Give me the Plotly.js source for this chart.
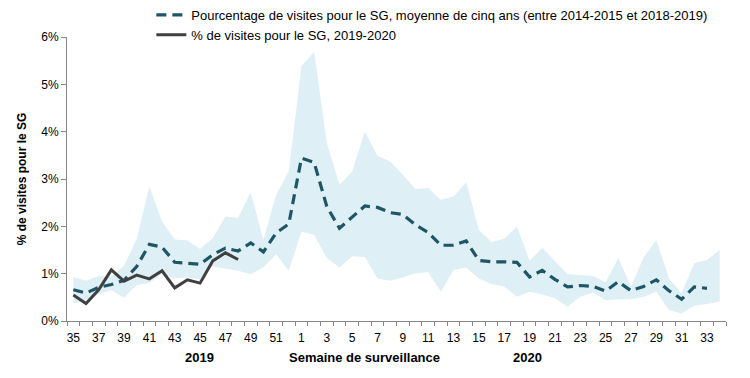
<!DOCTYPE html>
<html>
<head>
<meta charset="utf-8">
<script src="https://cdn.plot.ly/plotly-3.0.1.min.js"></script>
<style>html,body{margin:0;padding:0;background:#fff;}#chart{width:750px;height:378px;}</style>
</head>
<body>
<div id="chart"></div>
<script>
var weeks = ['35','36','37','38','39','40','41','42','43','44','45','46','47','48','49','50','51','52',
  '1','2','3','4','5','6','7','8','9','10','11','12','13','14','15','16','17','18','19','20',
  '21','22','23','24','25','26','27','28','29','30','31','32','33','34'];

var meanFiveYears = [0.66,0.59,0.71,0.77,0.86,1.15,1.62,1.56,1.24,1.22,1.20,1.40,1.54,1.48,1.65,1.46,1.86,2.05,
  3.44,3.35,2.42,1.96,2.20,2.43,2.40,2.29,2.25,2.03,1.87,1.60,1.60,1.69,1.28,1.25,1.25,1.24,0.93,1.07,
  0.88,0.72,0.75,0.73,0.63,0.83,0.64,0.73,0.87,0.64,0.46,0.72,0.69,null];

var upperBand = [0.93,0.85,0.95,0.94,1.16,1.73,2.84,2.10,1.72,1.70,1.52,1.75,2.21,2.18,2.72,1.71,2.66,3.16,
  5.38,5.69,3.76,2.88,3.16,4.00,3.49,3.37,3.09,2.79,2.81,2.56,2.63,2.93,1.92,1.67,1.74,1.99,1.28,1.54,
  1.27,0.99,0.97,0.95,0.82,1.33,0.73,1.34,1.71,0.90,0.59,1.22,1.29,1.50];

var lowerBand = [0.37,0.44,0.57,0.65,0.49,0.76,0.80,1.00,0.90,0.92,0.88,1.15,1.11,1.06,0.99,1.13,1.41,1.06,
  1.89,1.82,1.33,1.13,1.37,1.35,0.90,0.85,0.92,1.01,1.03,0.62,1.08,1.13,0.90,0.78,0.73,0.51,0.62,0.56,
  0.48,0.30,0.51,0.60,0.44,0.46,0.46,0.51,0.62,0.23,0.16,0.32,0.36,0.41];

var current = [0.55,0.37,0.66,1.08,0.84,0.97,0.89,1.06,0.70,0.87,0.80,1.27,1.44,1.30];

var yTickVals = [0,1,2,3,4,5,6];
var yTickText = ['0%','1%','2%','3%','4%','5%','6%'];
var xTickText = weeks.map(function(w,i){ return i % 2 === 0 ? w : ''; });

var narrow = 'Liberation Sans Narrow, Arial Narrow, Liberation Sans, Arial, sans-serif';
var regular = 'Liberation Sans, Arial, sans-serif';

var traces = [
  {x: weeks, y: lowerBand, type: 'scatter', mode: 'lines', line: {width: 0, color: '#deeff6'},
   showlegend: false, hoverinfo: 'skip'},
  {x: weeks, y: upperBand, type: 'scatter', mode: 'lines', line: {width: 0, color: '#deeff6'},
   fill: 'tonexty', fillcolor: '#deeff6', showlegend: false, hoverinfo: 'skip'},
  {x: weeks, y: meanFiveYears, type: 'scatter', mode: 'lines',
   name: 'Pourcentage de visites pour le SG, moyenne de cinq ans (entre 2014-2015 et 2018-2019)',
   line: {color: '#1f5666', width: 3.2, dash: '10px,6px'}},
  {x: weeks.slice(0, current.length), y: current, type: 'scatter', mode: 'lines',
   name: '% de visites pour le SG, 2019-2020',
   line: {color: '#404040', width: 3}}
];

var layout = {
  width: 750, height: 378,
  margin: {l: 67, r: 24, t: 37, b: 57, autoexpand: false},
  paper_bgcolor: '#fff', plot_bgcolor: '#fff',
  showlegend: true,
  legend: {x: 0.128, y: 1.0, xref: 'paper', yref: 'container', xanchor: 'left', yanchor: 'top',
    orientation: 'v', traceorder: 'normal',
    font: {family: regular, size: 13, color: '#000'}, bgcolor: 'rgba(0,0,0,0)', tracegroupgap: 0},
  xaxis: {type: 'category', categoryarray: weeks, categoryorder: 'array', range: [-0.5, 51.5],
    tickmode: 'array', tickvals: weeks, ticktext: xTickText, tickson: 'boundaries', tickangle: 0,
    ticks: 'outside', ticklen: 4, tickcolor: '#868686', showline: true, linecolor: '#868686',
    linewidth: 1, showgrid: false, zeroline: false, ticklabelstandoff: 6,
    tickfont: {family: narrow, size: 12, color: '#000'}, fixedrange: true},
  yaxis: {range: [0, 6], tickmode: 'array', tickvals: yTickVals, ticktext: yTickText,
    ticks: 'outside', ticklen: 5, tickcolor: '#868686', showline: true, linecolor: '#868686',
    linewidth: 1, showgrid: false, zeroline: false,
    tickfont: {family: narrow, size: 12, color: '#000'},
    title: {text: '<b>% de visites pour le SG</b>', font: {family: regular, size: 12, color: '#000'}, standoff: 12},
    fixedrange: true},
  annotations: [
    {text: '<b>2019</b>', xref: 'paper', yref: 'paper', x: 0.2018, y: -0.127, showarrow: false,
     xanchor: 'center', yanchor: 'middle', font: {family: narrow, size: 13, color: '#000'}},
    {text: '<b>Semaine de surveillance</b>', xref: 'paper', yref: 'paper', x: 0.452, y: -0.127, showarrow: false,
     xanchor: 'center', yanchor: 'middle', font: {family: narrow, size: 13, color: '#000'}},
    {text: '<b>2020</b>', xref: 'paper', yref: 'paper', x: 0.6995, y: -0.127, showarrow: false,
     xanchor: 'center', yanchor: 'middle', font: {family: narrow, size: 13, color: '#000'}}
  ]
};

Plotly.newPlot('chart', traces, layout, {displayModeBar: false, staticPlot: true});
</script>
</body>
</html>
